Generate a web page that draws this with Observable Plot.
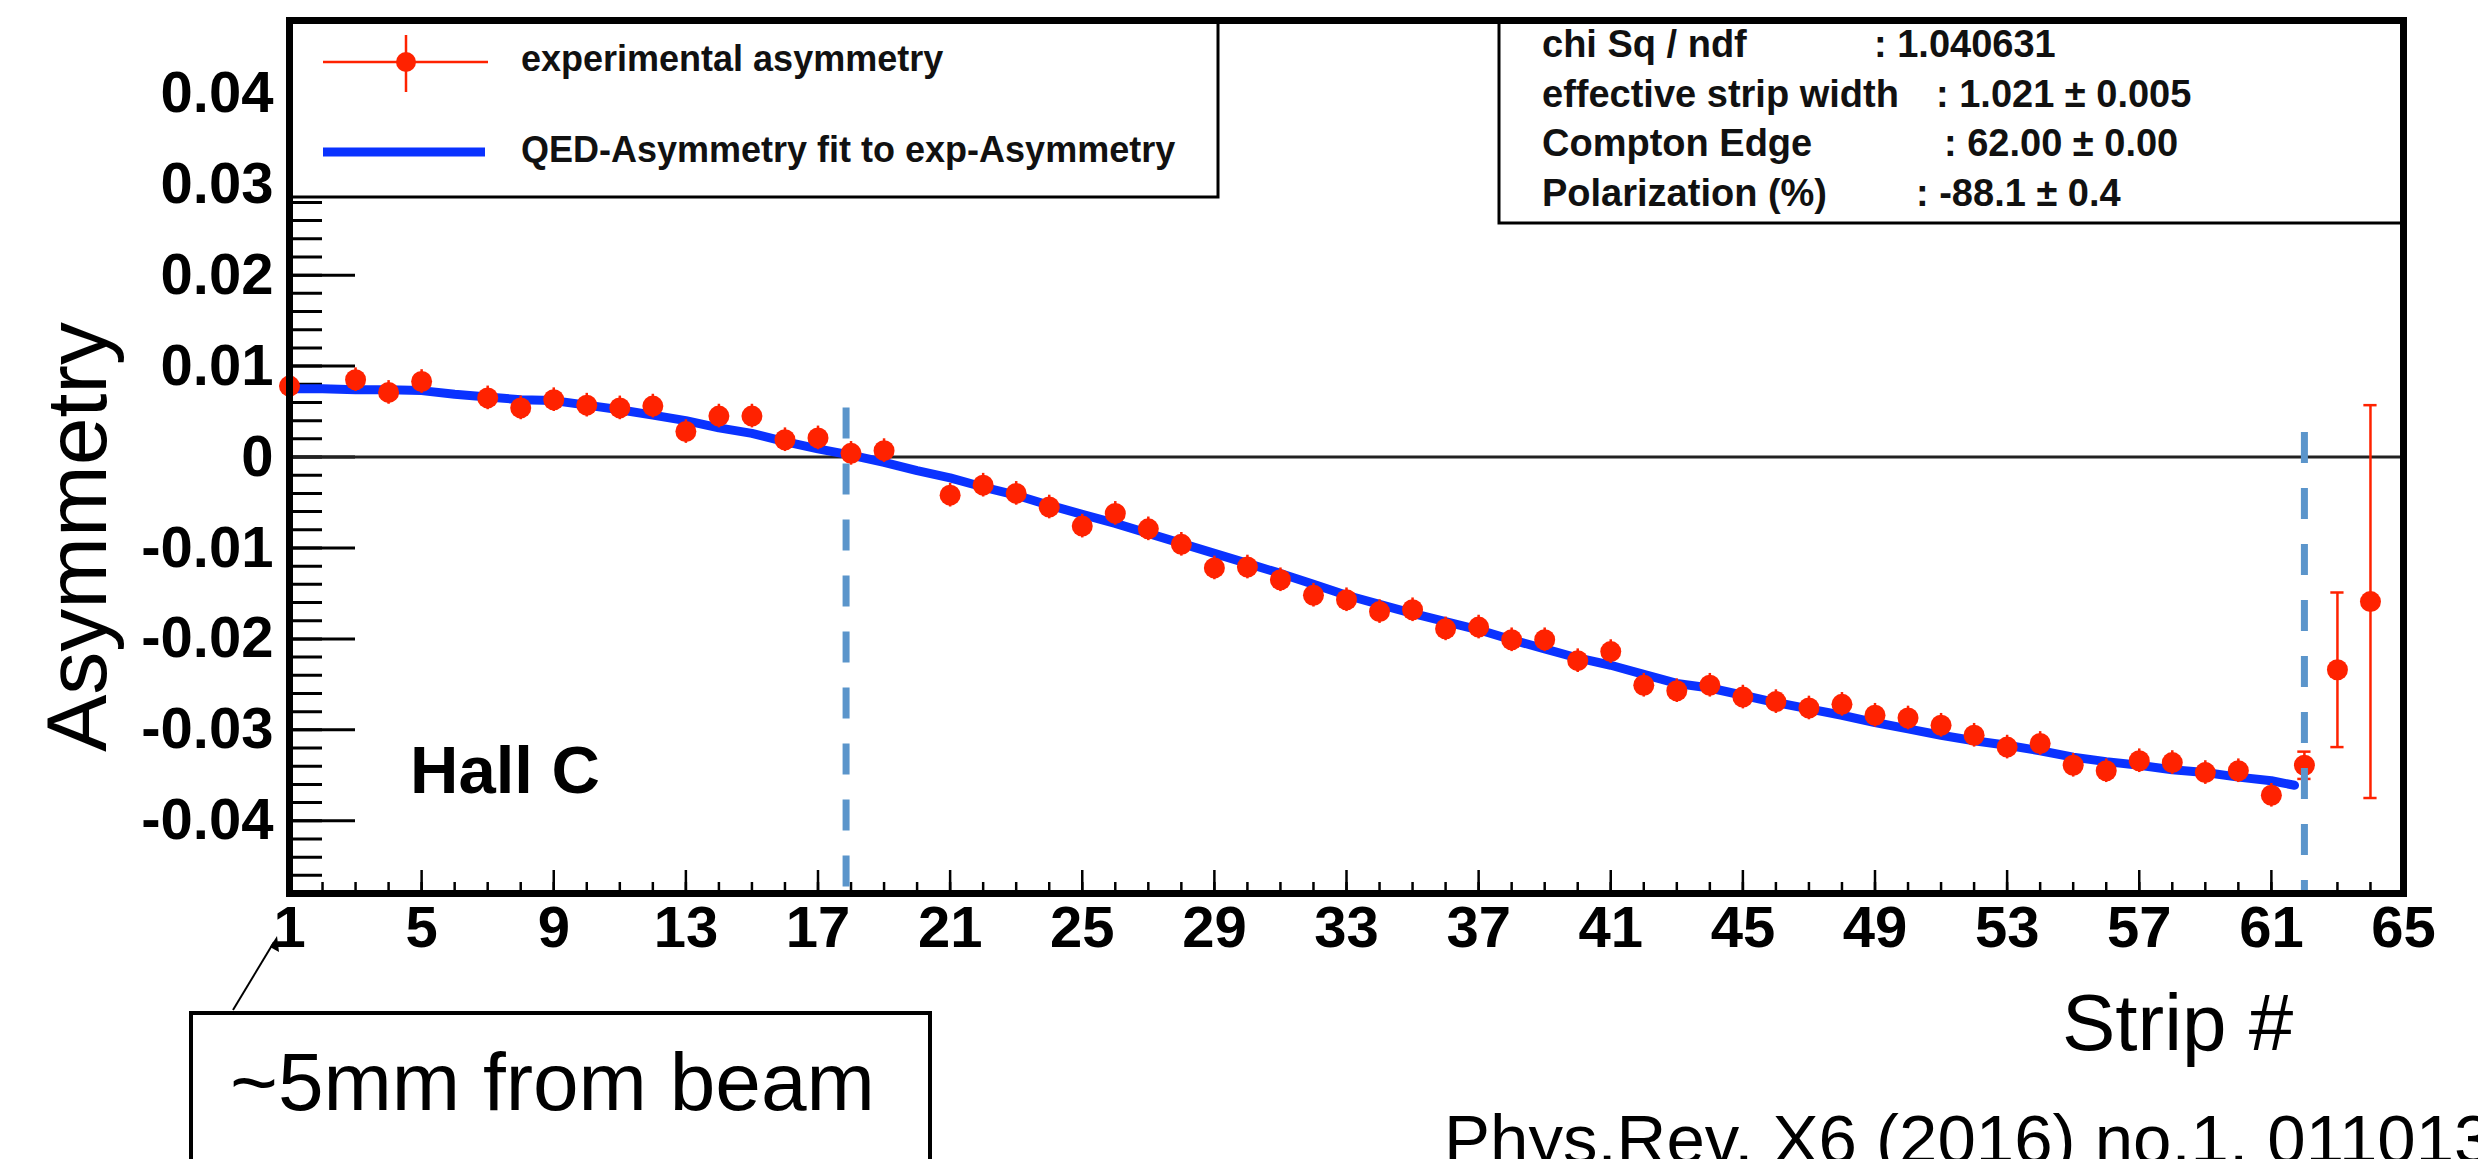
<!DOCTYPE html>
<html>
<head>
<meta charset="utf-8">
<script src="https://cdn.jsdelivr.net/npm/d3@7"></script>
<script src="https://cdn.jsdelivr.net/npm/@observablehq/plot@0.6"></script>
<style>
  html, body { margin: 0; padding: 0; background: #fff; }
  #chart { width: 2478px; height: 1159px; overflow: hidden; }
</style>
</head>
<body>
<div id="chart"></div>
<script>
// ---------------- data ----------------
const strips = [1, 3, 4, 5, 7, 8, 9, 10, 11, 12, 13, 14, 15, 16, 17, 18, 19,
  21, 22, 23, 24, 25, 26, 27, 28, 29, 30, 31, 32, 33, 34, 35, 36, 37, 38, 39, 40,
  41, 42, 43, 44, 45, 46, 47, 48, 49, 50, 51, 52, 53, 54, 55, 56, 57, 58, 59, 60,
  61, 62, 63, 64];
const asymmetry = [0.0078, 0.0085, 0.0071, 0.0083, 0.0065, 0.0054, 0.0063, 0.0057, 0.0054, 0.0056,
  0.0028, 0.0045, 0.0045, 0.0019, 0.0021, 0.0004, 0.0007,
  -0.0042, -0.0031, -0.0040, -0.0055, -0.0076, -0.0062, -0.0079, -0.0096, -0.0122, -0.0121,
  -0.0135, -0.0152, -0.0157, -0.0170, -0.0168, -0.0189, -0.0187, -0.0201, -0.0201, -0.0224,
  -0.0214, -0.0251, -0.0257, -0.0251, -0.0264, -0.0269, -0.0276, -0.0272, -0.0284, -0.0287,
  -0.0295, -0.0306, -0.0319, -0.0315, -0.0339, -0.0345, -0.0334, -0.0336, -0.0347, -0.0345,
  -0.0372, -0.0339, -0.0234, -0.0159];
const asymErr = [0.0013, 0.0013, 0.0013, 0.0013, 0.0013, 0.0013, 0.0013, 0.0013, 0.0013, 0.0013,
  0.0013, 0.0013, 0.0013, 0.0013, 0.0013, 0.0013, 0.0013,
  0.0013, 0.0013, 0.0013, 0.0013, 0.0013, 0.0013, 0.0013, 0.0013, 0.0013, 0.0013,
  0.0013, 0.0013, 0.0013, 0.0013, 0.0013, 0.0013, 0.0013, 0.0013, 0.0013, 0.0013,
  0.0013, 0.0013, 0.0013, 0.0013, 0.0013, 0.0013, 0.0013, 0.0013, 0.0013, 0.0013,
  0.0013, 0.0013, 0.0013, 0.0013, 0.0013, 0.0013, 0.0013, 0.0013, 0.0013, 0.0013,
  0.0013, 0.0015, 0.0085, 0.0216];

const fitStrips = [1, 2, 3, 4, 5, 6, 7, 8, 9, 10, 11, 12, 13, 14, 15, 16, 17, 18, 19, 20,
  21, 22, 23, 24, 25, 26, 27, 28, 29, 30, 31, 32, 33, 34, 35, 36, 37, 38, 39, 40,
  41, 42, 43, 44, 45, 46, 47, 48, 49, 50, 51, 52, 53, 54, 55, 56, 57, 58, 59, 60, 61, 61.7];
const fitAsym = [0.0075, 0.0075, 0.0074, 0.0074, 0.0073, 0.0069, 0.0066, 0.0063, 0.0062, 0.0057,
  0.0052, 0.0046, 0.0040, 0.0032, 0.0026, 0.0017, 0.0009, 0.0002, -0.0006, -0.0015,
  -0.0023, -0.0033, -0.0042, -0.0053, -0.0063, -0.0073, -0.0084, -0.0095, -0.0106, -0.0117,
  -0.0128, -0.0140, -0.0152, -0.0162, -0.0172, -0.0181, -0.0190, -0.0201, -0.0211, -0.0221,
  -0.0229, -0.0239, -0.0249, -0.0254, -0.0262, -0.0270, -0.0277, -0.0284, -0.0292, -0.0299,
  -0.0306, -0.0312, -0.0317, -0.0323, -0.0330, -0.0335, -0.0339, -0.0344, -0.0347, -0.0352,
  -0.0356, -0.0361];

const xTickLabels = [1, 5, 9, 13, 17, 21, 25, 29, 33, 37, 41, 45, 49, 53, 57, 61, 65];
const yTickLabels = [0.04, 0.03, 0.02, 0.01, 0, -0.01, -0.02, -0.03, -0.04];
const edgeStrips = [17.85, 62];
const edgeTops = [0.0054, 0.0027];

const legendLabels = ["experimental asymmetry", "QED-Asymmetry fit to exp-Asymmetry"];
const statLabels = ["chi Sq / ndf", "effective strip width", "Compton Edge", "Polarization (%)"];
const statValues = [": 1.040631", ": 1.021 \u00b1 0.005", ": 62.00 \u00b1 0.00", ": -88.1 \u00b1 0.4"];

// ---------------- chart ----------------
const FONT = "'Liberation Sans', Arial, Helvetica, sans-serif";
const RED = "#ff2200", BLUE = "#0a32ff", DASH = "#5b95cb";

const points = strips.map((s, i) => ({strip: s, a: asymmetry[i], e: asymErr[i]}));
const fit = fitStrips.map((s, i) => ({strip: s, a: fitAsym[i]}));
const edges = edgeStrips.map((s, i) => ({strip: s, top: edgeTops[i]}));
const capped = points.filter(d => d.e > 0.00145);

const W = 2478, H = 1159, ML = 289, MR = 75, MT = 20, MB = 266;
const innerW = W - ML - MR, innerH = H - MT - MB;

const yMinor = d3.range(-48, 49, 2).map(v => v / 1000);
const yMajor = d3.range(-40, 41, 10).map(v => v / 1000);
const xMinor = d3.range(1, 66);

const plot = Plot.plot({
  width: W, height: H,
  marginLeft: ML, marginRight: MR, marginTop: MT, marginBottom: MB,
  x: {domain: [1, 65], axis: null},
  y: {domain: [-0.048, 0.048], axis: null},
  style: {fontFamily: FONT, background: "white", color: "black", overflow: "visible"},
  marks: [
    Plot.ruleY(yMinor, {stroke: "black", strokeWidth: 3, insetRight: innerW - 33}),
    Plot.ruleY(yMajor, {stroke: "black", strokeWidth: 3, insetRight: innerW - 66}),
    Plot.ruleX(xMinor, {stroke: "black", strokeWidth: 2.5, insetTop: innerH - 11}),
    Plot.ruleX(xTickLabels, {stroke: "black", strokeWidth: 2.5, insetTop: innerH - 23}),
    Plot.ruleY([0], {stroke: "#222", strokeWidth: 3}),
    Plot.line(fit, {x: "strip", y: "a", stroke: BLUE, strokeWidth: 9}),
    Plot.ruleX(points, {x: "strip", y1: d => d.a - d.e, y2: d => d.a + d.e, stroke: RED, strokeWidth: 2.5}),
    Plot.ruleY(capped, {y: d => d.a + d.e, x1: d => d.strip - 0.2, x2: d => d.strip + 0.2, stroke: RED, strokeWidth: 2.5}),
    Plot.ruleY(capped, {y: d => d.a - d.e, x1: d => d.strip - 0.2, x2: d => d.strip + 0.2, stroke: RED, strokeWidth: 2.5}),
    Plot.dot(points, {x: "strip", y: "a", r: 10.5, fill: RED}),
    Plot.ruleX(edges, {x: "strip", y1: "top", y2: () => -0.048, stroke: DASH, strokeWidth: 7, strokeDasharray: "31,25"}),
    Plot.text(xTickLabels, {x: d => d, frameAnchor: "bottom", dy: 12, lineAnchor: "top",
      text: d => String(d), fontSize: 58, fontWeight: "bold", fill: "black"}),
    Plot.text(yTickLabels, {y: d => d, frameAnchor: "left", dx: -16, textAnchor: "end",
      text: d => d === 0 ? "0" : d.toFixed(2), fontSize: 58, fontWeight: "bold", fill: "black"}),
    Plot.frame({stroke: "black", strokeWidth: 7})
  ]
});

document.getElementById("chart").appendChild(plot);

// ---------------- overlays (legend, stats box, annotations) ----------------
const svg = d3.select(plot);
const under = svg.insert("g", '[aria-label="frame"]').attr("text-anchor", "start");

// legend box
under.append("rect").attr("x", 289).attr("y", 20).attr("width", 929).attr("height", 177)
  .attr("fill", "white").attr("stroke", "black").attr("stroke-width", 3);
under.append("line").attr("x1", 323).attr("x2", 488).attr("y1", 62).attr("y2", 62)
  .attr("stroke", RED).attr("stroke-width", 2.5);
under.append("line").attr("x1", 406).attr("x2", 406).attr("y1", 35).attr("y2", 92)
  .attr("stroke", RED).attr("stroke-width", 2.5);
under.append("circle").attr("cx", 406).attr("cy", 62).attr("r", 10).attr("fill", RED);
under.append("line").attr("x1", 323).attr("x2", 485).attr("y1", 152).attr("y2", 152)
  .attr("stroke", BLUE).attr("stroke-width", 9);
[71, 162].forEach((yb, i) => {
  under.append("text").attr("x", 521).attr("y", yb).attr("text-anchor", "start").text(legendLabels[i])
    .attr("font-family", FONT).attr("font-weight", "bold").attr("font-size", 36).attr("fill", "#111");
});

// stats box
under.append("rect").attr("x", 1499).attr("y", 20).attr("width", 904).attr("height", 203)
  .attr("fill", "white").attr("stroke", "black").attr("stroke-width", 3);
const statBase = [57, 107, 156, 206];
const statValueX = [1874, 1936, 1944, 1916];
statLabels.forEach((t, i) => {
  under.append("text").attr("x", 1542).attr("y", statBase[i]).attr("text-anchor", "start").text(t)
    .attr("font-family", FONT).attr("font-weight", "bold").attr("font-size", 38).attr("fill", "#111");
  under.append("text").attr("x", statValueX[i]).attr("y", statBase[i]).attr("text-anchor", "start").text(statValues[i])
    .attr("font-family", FONT).attr("font-weight", "bold").attr("font-size", 38).attr("fill", "#111");
});

// Hall C
under.append("text").attr("x", 410).attr("y", 793).attr("text-anchor", "start").text("Hall C")
  .attr("font-family", FONT).attr("font-weight", "bold").attr("font-size", 67).attr("fill", "black");

const over = svg.append("g").attr("text-anchor", "start");
// axis titles
over.append("text").attr("transform", "translate(106,537) rotate(-90)").attr("text-anchor", "middle")
  .text("Asymmetry").attr("font-family", FONT).attr("font-size", 86).attr("fill", "black");
over.append("text").attr("x", 2062).attr("y", 1050).attr("text-anchor", "start").text("Strip #")
  .attr("font-family", FONT).attr("font-size", 80).attr("fill", "black");

// "~5mm from beam" box and arrow
over.append("rect").attr("x", 191).attr("y", 1013).attr("width", 739).attr("height", 220)
  .attr("fill", "white").attr("stroke", "black").attr("stroke-width", 4);
over.append("text").attr("x", 230).attr("y", 1110).attr("text-anchor", "start").text("~5mm from beam")
  .attr("font-family", FONT).attr("font-size", 82).attr("fill", "black");
over.append("line").attr("x1", 233).attr("y1", 1010).attr("x2", 274).attr("y2", 942)
  .attr("stroke", "black").attr("stroke-width", 2);
over.append("path").attr("d", "M277,936 L279,952 L270,947 Z").attr("fill", "black");

// citation (cut off at the right and bottom edge, as in the reference)
over.append("text").attr("x", 1444).attr("y", 1163).attr("text-anchor", "start").text("Phys.Rev. X6 (2016) no.1, 011013")
  .attr("font-family", FONT).attr("font-size", 69).attr("fill", "black");
</script>
</body>
</html>
